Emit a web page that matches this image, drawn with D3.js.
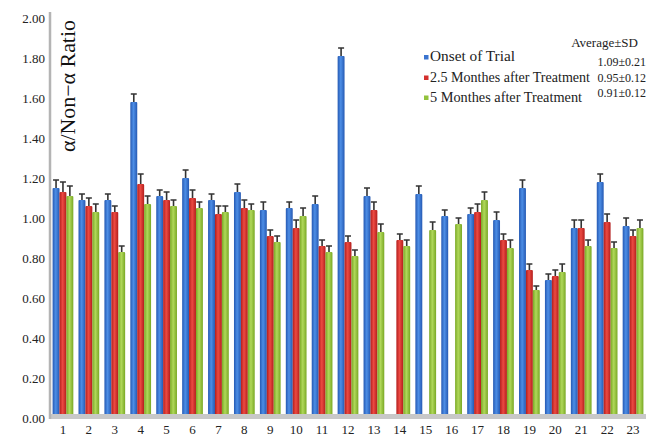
<!DOCTYPE html>
<html lang="en">
<head>
<meta charset="UTF-8">
<title>Ratio chart</title>
<script src="https://cdn.jsdelivr.net/npm/d3@7"></script>
<style>
  body { margin: 0; background: #fff; }
</style>
</head>
<body>
<script>
// data
var groups = d3.range(1, 24).map(String);
var seriesNames = ["Onset of Trial", "2.5 Monthes after Treatment", "5 Monthes after Treatment"];
var averages = ["1.09\u00b10.21", "0.95\u00b10.12", "0.91\u00b10.12"];
var onset   = [1.15, 1.09, 1.09, 1.58, 1.11, 1.20, 1.09, 1.13, 1.04, 1.05, 1.07, 1.81, 1.11, null, 1.12, 1.01, 1.02, 0.99, 1.15, 0.69, 0.95, 1.18, 0.96];
var month25 = [1.13, 1.06, 1.03, 1.17, 1.09, 1.10, 1.02, 1.05, 0.91, 0.95, 0.86, 0.88, 1.04, 0.89, null, null, 1.03, 0.89, 0.74, 0.71, 0.95, 0.98, 0.91];
var month5  = [1.11, 1.03, 0.83, 1.07, 1.06, 1.05, 1.03, 1.04, 0.88, 1.01, 0.83, 0.81, 0.93, 0.86, 0.94, 0.97, 1.09, 0.85, 0.64, 0.73, 0.86, 0.85, 0.95];
var onsetErr   = [0.04, 0.03, 0.03, 0.04, 0.03, 0.04, 0.03, 0.04, 0.04, 0.03, 0.04, 0.04, 0.04, 0, 0.04, 0.03, 0.03, 0.04, 0.04, 0.03, 0.04, 0.04, 0.04];
var month25Err = [0.05, 0.04, 0.03, 0.05, 0.04, 0.04, 0.04, 0.04, 0.03, 0.04, 0.03, 0.03, 0.04, 0.03, 0, 0, 0.04, 0.03, 0.03, 0.03, 0.04, 0.04, 0.03];
var month5Err  = [0.05, 0.04, 0.03, 0.04, 0.03, 0.03, 0.03, 0.03, 0.03, 0.04, 0.03, 0.03, 0.04, 0.03, 0.04, 0.03, 0.04, 0.04, 0.02, 0.04, 0.03, 0.03, 0.04];
var yTicks = [0, 0.2, 0.4, 0.6, 0.8, 1.0, 1.2, 1.4, 1.6, 1.8, 2.0];

var width = 654, height = 437;
var serif = "Liberation Serif, DejaVu Serif, serif";
var colors = [
  { edge: "#2559b3", mid: "#4d8ee6", key: "#3a74d0" },
  { edge: "#b31d1c", mid: "#ec4a42", key: "#d4302d" },
  { edge: "#79a824", mid: "#b0d85a", key: "#92c23c" }
];
var values = [onset, month25, month5];
var errs = [onsetErr, month25Err, month5Err];

var svg = d3.select("body").append("svg")
    .attr("width", width)
    .attr("height", height)
    .attr("font-family", serif);

// cylinder-ish gradients for bars
var defs = svg.append("defs");
colors.forEach(function(c, i) {
  var g = defs.append("linearGradient").attr("id", "grad" + i)
      .attr("x1", "0%").attr("x2", "100%").attr("y1", "0%").attr("y2", "0%");
  g.append("stop").attr("offset", "0%").attr("stop-color", c.edge);
  g.append("stop").attr("offset", "45%").attr("stop-color", c.mid);
  g.append("stop").attr("offset", "100%").attr("stop-color", c.edge);
});

var x = d3.scaleBand().domain(groups).range([50, 646]).paddingInner(0.2).paddingOuter(0.1);
var xs = d3.scaleBand().domain([0, 1, 2]).range([0, x.bandwidth()]);
var y = d3.scaleLinear().domain([0, 2]).range([418, 18]);

// y tick labels
svg.append("g").selectAll("text")
  .data(yTicks).enter().append("text")
    .attr("x", 45)
    .attr("y", function(d) { return y(d) + 4.5; })
    .attr("text-anchor", "end")
    .attr("fill", "#222")
    .attr("font-family", serif)
    .attr("font-size", 13)
    .text(function(d) { return d.toFixed(2); });

// x labels
svg.append("g").selectAll("text")
  .data(groups).enter().append("text")
    .attr("x", function(d) { return x(d) + x.bandwidth() / 2; })
    .attr("y", 434)
    .attr("text-anchor", "middle")
    .attr("fill", "#222")
    .attr("font-family", serif)
    .attr("font-size", 13)
    .text(function(d) { return d; });

// bars
var barG = svg.append("g");
values.forEach(function(vals, s) {
  var data = groups.map(function(g, i) { return { g: g, v: vals[i], e: errs[s][i] }; })
      .filter(function(d) { return d.v != null; });

  barG.append("g").selectAll("path")
    .data(data).enter().append("path")
      .attr("d", function(d) {
        var x0 = x(d.g) + xs(s), yt = y(d.v + d.e), yb = y(d.v), cx = x0 + xs.bandwidth() / 2;
        return "M" + cx + "," + yb + "V" + yt + "M" + (cx - 3) + "," + yt + "H" + (cx + 3);
      })
      .attr("stroke", "#333")
      .attr("stroke-width", 1.6)
      .attr("fill", "none");

  barG.append("g").selectAll("rect")
    .data(data).enter().append("rect")
      .attr("x", function(d) { return x(d.g) + xs(s); })
      .attr("y", function(d) { return y(d.v); })
      .attr("width", xs.bandwidth())
      .attr("height", function(d) { return y(0) - y(d.v); })
      .attr("rx", 1)
      .attr("fill", "url(#grad" + s + ")");
});

// floor and left wall
svg.append("rect")
    .attr("x", 50).attr("y", y(0) - 4)
    .attr("width", 596).attr("height", 5)
    .attr("fill", "#c8c8c8");
svg.append("line")
    .attr("x1", 50).attr("x2", 50)
    .attr("y1", 12).attr("y2", y(0) + 1)
    .attr("stroke", "#b4b4b4")
    .attr("stroke-width", 2.5);

// y axis title
svg.append("text")
    .attr("transform", "translate(75,86) rotate(-90)")
    .attr("text-anchor", "middle")
    .attr("fill", "#111")
    .attr("font-family", serif)
    .attr("font-size", 21)
    .attr("textLength", 132)
    .attr("lengthAdjust", "spacingAndGlyphs")
    .text("\u03b1/Non\u2212\u03b1 Ratio");

// legend
var legend = svg.append("g");
var legendY = [61, 81.5, 101.5];
var legendLen = [85, 160, 152];
seriesNames.forEach(function(n, i) {
  legend.append("rect")
      .attr("x", 424).attr("y", legendY[i] - 6)
      .attr("width", 4.5).attr("height", 4.5)
      .attr("fill", colors[i].key);
  legend.append("text")
      .attr("x", 430).attr("y", legendY[i])
      .attr("fill", "#222")
      .attr("font-family", serif)
      .attr("font-size", 14)
      .attr("textLength", legendLen[i])
      .attr("lengthAdjust", "spacingAndGlyphs")
      .text(n);
});
legend.append("text")
    .attr("x", 638).attr("y", 46.5)
    .attr("text-anchor", "end")
    .attr("fill", "#222")
    .attr("font-family", serif)
    .attr("font-size", 13)
    .text("Average\u00b1SD");
var avgY = [65.5, 81.5, 96.5];
averages.forEach(function(a, i) {
  legend.append("text")
      .attr("x", 646).attr("y", avgY[i])
      .attr("text-anchor", "end")
      .attr("fill", "#222")
      .attr("font-family", serif)
      .attr("font-size", 12)
      .text(a);
});
</script>
</body>
</html>
